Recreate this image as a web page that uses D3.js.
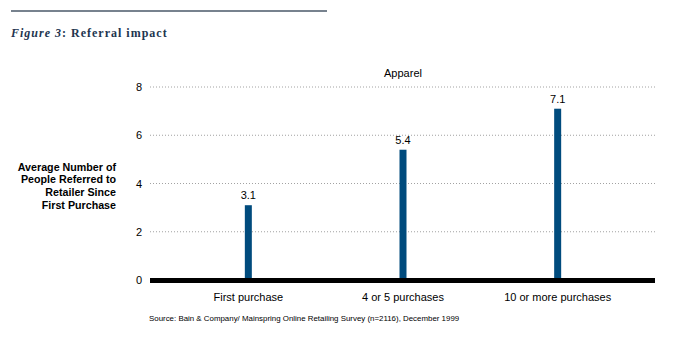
<!DOCTYPE html>
<html><head><meta charset="utf-8">
<script src="https://cdn.jsdelivr.net/npm/d3@7"></script>
<style>
body{margin:0;background:#fff;}
svg{display:block;}
</style></head>
<body>
<svg id="chart" width="688" height="340"></svg>
<script>
const categories = ["First purchase", "4 or 5 purchases", "10 or more purchases"];
const values = [3.1, 5.4, 7.1];
const yTicks = [0, 2, 4, 6, 8];
const seriesName = "Apparel";
const yTitleLines = ["Average Number of", "People Referred to", "Retailer Since", "First Purchase"];
const sourceText = "Source: Bain & Company/ Mainspring Online Retailing Survey (n=2116), December 1999";

const svg = d3.select("#chart");
const plotLeft = 150, plotRight = 655, plotTop = 87, plotBottom = 280;

// header rule & title
svg.append("line").attr("x1", 11).attr("x2", 327).attr("y1", 11).attr("y2", 11)
  .attr("stroke", "#4a5868").attr("stroke-width", 1.3);
const title = svg.append("text").attr("x", 11).attr("y", 37)
  .attr("font-family", "'Liberation Serif','DejaVu Serif',serif").attr("font-size", 12)
  .attr("letter-spacing", 1)
  .attr("font-weight", "bold").attr("fill", "#22354f");
title.append("tspan").attr("font-style", "italic").text("Figure 3");
title.append("tspan").text(":  Referral impact");

const x = d3.scaleBand().domain(categories).range([171, 635]);
const y = d3.scaleLinear().domain([0, 8]).range([plotBottom, plotTop]);

// gridlines
svg.append("g").selectAll("line").data(yTicks.filter(d => d > 0)).join("line")
  .attr("x1", plotLeft).attr("x2", plotRight)
  .attr("y1", d => y(d)).attr("y2", d => y(d))
  .attr("stroke", "#8a8a8a").attr("stroke-width", 0.8).attr("stroke-dasharray", "1,2");

// y axis ticks labels
const yAxis = d3.axisLeft(y).tickValues(yTicks).tickSize(0).tickPadding(8);
const gy = svg.append("g").attr("transform", `translate(${plotLeft},0)`).call(yAxis);
gy.select(".domain").remove();
gy.selectAll("text").attr("font-family", "Arial, 'Liberation Sans', sans-serif")
  .attr("font-size", 11).attr("fill", "#000");

// bars
const barW = 7;
svg.append("g").selectAll("rect").data(values).join("rect")
  .attr("x", (d, i) => x(categories[i]) + x.bandwidth() / 2 - barW / 2)
  .attr("width", barW)
  .attr("y", d => y(d))
  .attr("height", d => y(0) - y(d))
  .attr("fill", "#004b7d");

// value labels
svg.append("g").selectAll("text").data(values).join("text")
  .attr("x", (d, i) => x(categories[i]) + x.bandwidth() / 2)
  .attr("y", d => y(d) - 6)
  .attr("text-anchor", "middle")
  .attr("font-family", "Arial, 'Liberation Sans', sans-serif").attr("font-size", 11)
  .attr("fill", "#000").text(d => d.toFixed(1));

// baseline
svg.append("line").attr("x1", plotLeft).attr("x2", plotRight)
  .attr("y1", y(0) + 0.5).attr("y2", y(0) + 0.5)
  .attr("stroke", "#000").attr("stroke-width", 5);

// x axis labels
const xAxis = d3.axisBottom(x).tickSize(0).tickPadding(0);
const gx = svg.append("g").attr("transform", `translate(0,${y(0) + 13})`).call(xAxis);
gx.select(".domain").remove();
gx.selectAll("text").attr("font-family", "Arial, 'Liberation Sans', sans-serif")
  .attr("font-size", 11).attr("fill", "#000");

// series label
svg.append("text").attr("x", x(categories[1]) + x.bandwidth() / 2).attr("y", 77)
  .attr("text-anchor", "middle")
  .attr("font-family", "Arial, 'Liberation Sans', sans-serif").attr("font-size", 11)
  .attr("fill", "#000").text(seriesName);

// y title
svg.append("text").attr("text-anchor", "end")
  .attr("font-family", "Arial, 'Liberation Sans', sans-serif").attr("font-size", 10.7)
  .attr("font-weight", "bold").attr("fill", "#000")
  .selectAll("tspan").data(yTitleLines).join("tspan")
  .attr("x", 116).attr("y", (d, i) => 170.5 + i * 12.7).text(d => d);

// source
svg.append("text").attr("x", 149).attr("y", 321)
  .attr("font-family", "Arial, 'Liberation Sans', sans-serif").attr("font-size", 7.9)
  .attr("fill", "#000").text(sourceText);
</script>
</body></html>
